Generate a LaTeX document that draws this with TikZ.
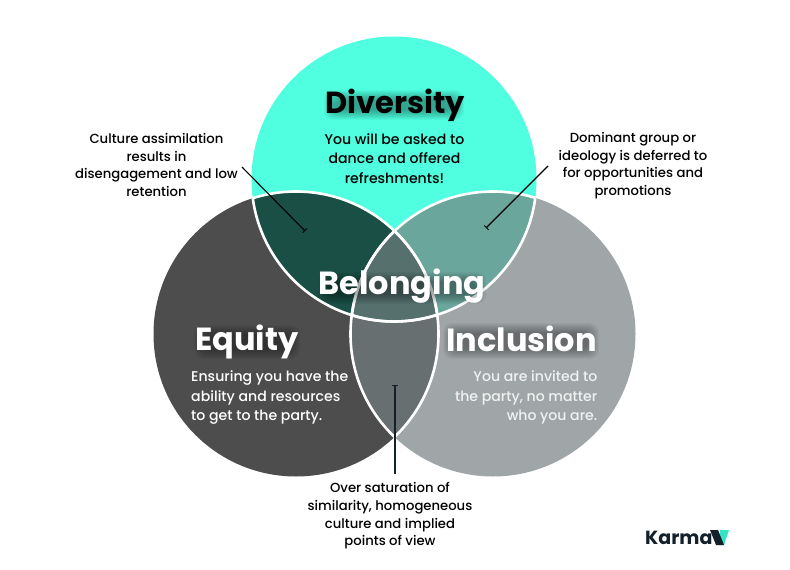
\documentclass[tikz,border=0pt]{standalone}
\usepackage{fontspec}
\setmainfont{Poppins}
\newfontfamily\popm{Poppins Medium}
\usetikzlibrary{arrows.meta}
\definecolor{cTop}{HTML}{4FFFE0}
\definecolor{cLeft}{HTML}{4D4D4D}
\definecolor{cRight}{HTML}{A0A6A8}
\definecolor{cTL}{HTML}{1A4F45}
\definecolor{cTR}{HTML}{6BA69D}
\definecolor{cLR}{HTML}{686F71}
\definecolor{cMid}{HTML}{56706E}
\definecolor{cInk}{HTML}{14202A}
\definecolor{cLight}{HTML}{F0F1F1}
\definecolor{cV}{HTML}{35E5C2}
\tikzset{
  title/.style={font=\fontsize{32}{38}\selectfont\bfseries,inner sep=0pt},
  titletop/.style={font=\fontsize{30.5}{36}\selectfont\bfseries,inner sep=0pt},
  bodytext/.style={font=\popm\fontsize{14.1}{19.5}\selectfont,inner sep=0pt},
  notetext/.style={font=\popm\fontsize{13.2}{17.6}\selectfont,inner sep=0pt,align=center,text=black},
  lead/.style={draw=black,line width=1.1pt,-{Bar[width=6pt,length=1pt,line width=.8pt]}},
  seam/.style={draw=white,line width=2.6pt},
}
\newcommand{\glow}[6]{% cx cy halfw halfh colour opacity
  \foreach \g in {0,1,...,10}{
    \fill[#5,opacity=#6,rounded corners=9pt]
      ({#1-#3-\g},{#2-#4-\g}) rectangle ({#1+#3+\g},{#2+#4+\g});
  }
}
\begin{document}
\begin{tikzpicture}[x=1pt,y=-1pt]
\useasboundingbox (0,0) rectangle (790,570);
\fill[white] (0,0) rectangle (790,570);
\def\Rr{142.5}
\coordinate (ct) at (394,179);
\coordinate (cl) at (296,334);
\coordinate (cr) at (493,334);
% circles
\fill[cTop] (ct) circle[radius=\Rr];
\fill[cLeft] (cl) circle[radius=\Rr];
\fill[cRight] (cr) circle[radius=\Rr];
% lenses
\begin{scope}\clip (ct) circle[radius=\Rr]; \fill[cTL] (cl) circle[radius=\Rr];\end{scope}
\begin{scope}\clip (ct) circle[radius=\Rr]; \fill[cTR] (cr) circle[radius=\Rr];\end{scope}
\begin{scope}\clip (cl) circle[radius=\Rr]; \fill[cLR] (cr) circle[radius=\Rr];\end{scope}
\begin{scope}\clip (ct) circle[radius=\Rr]; \clip (cl) circle[radius=\Rr]; \fill[cMid] (cr) circle[radius=\Rr];\end{scope}
% seams
\begin{scope}\clip (cl) circle[radius=\Rr]; \draw[seam] (ct) circle[radius=\Rr]; \draw[seam] (cr) circle[radius=\Rr];\end{scope}
\begin{scope}\clip (cr) circle[radius=\Rr]; \draw[seam] (ct) circle[radius=\Rr]; \draw[seam] (cl) circle[radius=\Rr];\end{scope}
\begin{scope}\clip (ct) circle[radius=\Rr]; \draw[seam] (cl) circle[radius=\Rr]; \draw[seam] (cr) circle[radius=\Rr];\end{scope}
% glows
\glow{394}{105}{60}{5}{black}{0.035}
\glow{402}{288}{74}{6}{black}{0.035}
\glow{247}{342}{43}{7}{black}{0.03}
\glow{521}{341}{68}{8}{black}{0.035}
% leader lines
\coordinate (aS) at (242,167); \coordinate (aE) at (305,231);
\coordinate (bS) at (548,166); \coordinate (bE) at (486,228);
\coordinate (cS) at (395,474); \coordinate (cE) at (395,385);
\draw[lead] (aS) -- (aE);
\draw[lead] (bS) -- (bE);
\draw[lead,line width=1.5pt,draw=cInk] (cS) -- (cE);
% titles
\node[titletop,text=black] (tdiv) at (395,105) {Diversity};
\node[title,text=white] (tbel) at (402,286) {Belonging};
\node[title,text=white] (tequ) at (247,342) {Equity};
\node[title,text=white] (tinc) at (521.5,339) {Inclusion};
% bodies
\node[bodytext,align=center,text=black] (bdiv) at (394.5,158.5) {You will be asked to\\dance and offered\\refreshments!};
\node[bodytext,align=left,text=white,anchor=west] (bequ) at (191,397.5) {Ensuring you have the\\ability and resources\\to get to the party.};
\node[bodytext,align=right,text=cLight,anchor=east] (binc) at (597.5,397.5) {You are invited to\\the party, no matter\\who you are.};
% notes
\node[notetext] (nl) at (156.5,165) {Culture assimilation\\results in\\disengagement and low\\retention};
\node[notetext] (nr) at (633,165.5) {Dominant group or\\ideology is deferred to\\for opportunities and\\promotions};
\node[notetext] (nb) at (390,516) {Over saturation of\\similarity, homogeneous\\culture and implied\\points of view};
% logo
\node[font=\fontsize{19}{19}\selectfont\bfseries,text=cInk,inner sep=0pt,anchor=base west] (logo) at (645,544.5) {Karma};
\fill[cV] (720,530) -- (729,530) -- (724,545) -- (719,545) -- cycle;
\fill[cInk] (710,530) -- (718,530) -- (724,545) -- (716,545) -- cycle;
\end{tikzpicture}
\end{document}
